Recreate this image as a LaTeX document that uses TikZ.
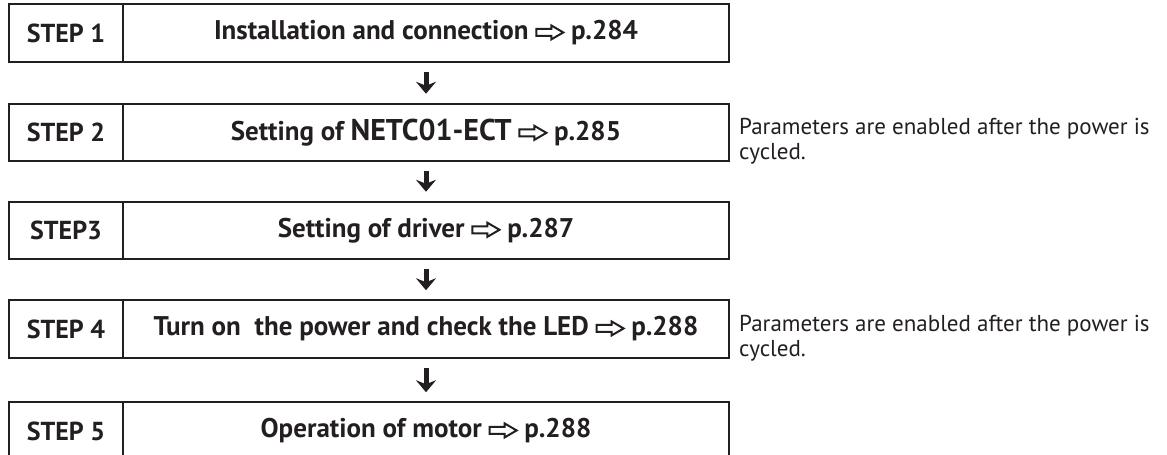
\documentclass[tikz,border=0pt]{standalone}
\usepackage{fontspec}
\setmainfont{PT Sans}
\usetikzlibrary{arrows.meta,calc}
\definecolor{ink}{HTML}{231F20}
\newcommand{\harr}{\tikz[x=1pt,y=1pt,baseline=0pt]\draw[ink,line width=2pt,line join=miter] (0,4)--(15,4)--(15,0.5)--(27,7.5)--(15,14.5)--(15,11)--(0,11)--cycle;}
\tikzset{
  stepbox/.style={draw=ink,line width=2pt,rectangle,inner sep=0pt,minimum width=114pt,minimum height=57.5pt,text=ink,font=\fontsize{26}{28}\selectfont\bfseries},
  mainbox/.style={draw=ink,line width=2pt,rectangle,inner sep=0pt,minimum width=606pt,minimum height=57.5pt,text=ink,font=\fontsize{27}{28}\selectfont\bfseries},
  note/.style={anchor=west,align=left,inner sep=0pt,text=ink,font=\fontsize{23}{25}\selectfont},
  flow/.style={ink,line width=5pt,shorten <=9pt,shorten >=9pt,-{Stealth[length=12pt,width=20pt,inset=4pt]}}
}
\begin{document}
\begin{tikzpicture}[x=1pt,y=-1pt]
\useasboundingbox (0,0) rectangle (1167,455);
\clip (0,0) rectangle (1167,455);
\node[stepbox] (s1) at (66,33) {STEP 1};
\node[mainbox] (m1) at (426,33) {Installation and connection \harr{} p.284};
\node[stepbox] (s2) at (66,132.5) {STEP 2};
\node[mainbox] (m2) at (426,132.5) {Setting of {\fontsize{30}{28}\selectfont NETC01-ECT} \harr{} p.285};
\node[stepbox] (s3) at (66,230.5) {STEP3};
\node[mainbox] (m3) at (426,230.5) {Setting of driver \harr{} p.287};
\node[stepbox] (s4) at (66,329) {STEP 4};
\node[mainbox] (m4) at (426,329) {Turn on\ \ the power and check the LED \harr{} p.288};
\node[stepbox] (s5) at (66,431) {STEP 5};
\node[mainbox] (m5) at (426,431) {Operation of motor \harr{} p.288};
\node[note] (n2) at (739,141) {Parameters are enabled after the power is\\cycled.};
\node[note] (n4) at (739,338) {Parameters are enabled after the power is\\cycled.};
\foreach \a/\b in {m1/m2,m2/m3,m3/m4,m4/m5}
  \draw[flow] (\a.south) -- (\b.north);
\end{tikzpicture}
\end{document}
